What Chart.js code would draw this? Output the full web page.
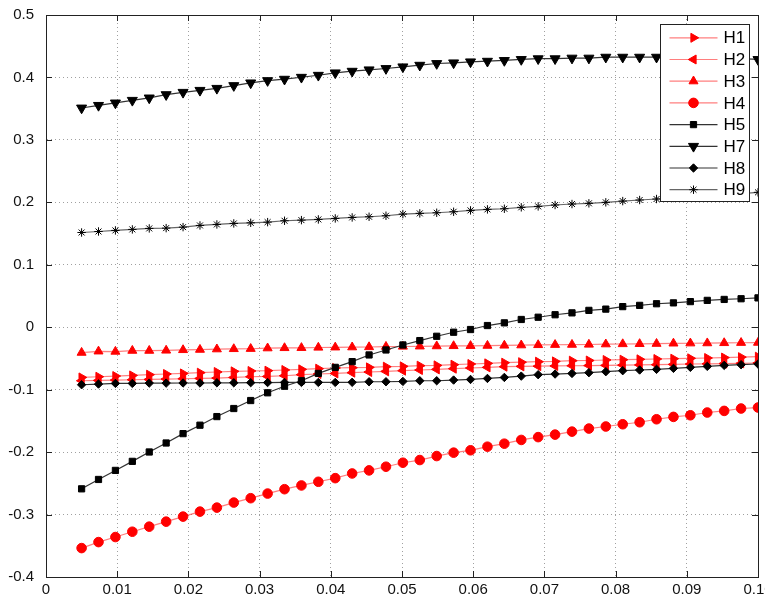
<!DOCTYPE html>
<html>
<head>
<meta charset="utf-8">
<script src="https://cdn.jsdelivr.net/npm/chart.js@4.4.1/dist/chart.umd.min.js"></script>
<style>
html, body { margin: 0; padding: 0; background: #fff; }
#wrap { width: 765px; height: 599px; }
</style>
</head>
<body>
<div id="wrap"><canvas id="c" width="765" height="599"></canvas></div>
<script>
// x positions of the samples
const xs = [0.005, 0.007375, 0.00975, 0.012125, 0.0145, 0.016875, 0.01925, 0.021625, 0.024, 0.026375,
    0.02875, 0.031125, 0.0335, 0.035875, 0.03825, 0.040625, 0.043, 0.045375, 0.04775, 0.050125,
    0.0525, 0.054875, 0.05725, 0.059625, 0.062, 0.064375, 0.06675, 0.069125, 0.0715, 0.073875,
    0.07625, 0.078625, 0.081, 0.083375, 0.08575, 0.088125, 0.0905, 0.092875, 0.09525, 0.097625, 0.1];

const h1 = [-0.0804, -0.0793, -0.0782, -0.0772, -0.076, -0.0749, -0.074, -0.0728, -0.0717, -0.0707, -0.0701, -0.0696, -0.0685,
    -0.0675, -0.0664, -0.0653, -0.0648, -0.0643, -0.0632, -0.0627, -0.0616, -0.0611, -0.06, -0.0589, -0.0579, -0.0568,
    -0.056, -0.0552, -0.0547, -0.0536, -0.0533, -0.0525, -0.052, -0.0514, -0.0509, -0.0504, -0.0498, -0.0493, -0.0486, -0.0479, -0.0472];
const h2 = [-0.0857, -0.0852, -0.0846, -0.0841, -0.0836, -0.083, -0.0825, -0.082, -0.0814, -0.0804, -0.0793, -0.0788, -0.0777,
    -0.076, -0.0749, -0.074, -0.0728, -0.0717, -0.0707, -0.0696, -0.0685, -0.0675, -0.0664, -0.0653, -0.0643, -0.0632,
    -0.0627, -0.0624, -0.062, -0.0617, -0.0614, -0.0611, -0.0607, -0.0604, -0.06, -0.0595, -0.0589, -0.0586, -0.0582, -0.0578, -0.0573];
const h3 = [-0.0407, -0.0386, -0.039, -0.0375, -0.0375, -0.0372, -0.0364, -0.0359, -0.0352, -0.0348, -0.0345, -0.0336, -0.0332,
    -0.033, -0.0325, -0.0322, -0.032, -0.0317, -0.0311, -0.0309, -0.0306, -0.0303, -0.03, -0.0298, -0.0295, -0.0292,
    -0.0288, -0.0284, -0.0281, -0.0279, -0.0277, -0.0272, -0.0269, -0.0267, -0.0264, -0.0259, -0.0257, -0.0255, -0.0252, -0.0249, -0.0247];
const h4 = [-0.3537, -0.3441, -0.336, -0.3275, -0.3194, -0.3114, -0.3033, -0.2953, -0.2889, -0.2808, -0.2738, -0.2664, -0.2594,
    -0.2534, -0.2475, -0.2417, -0.2342, -0.2293, -0.2234, -0.217, -0.2127, -0.2063, -0.2009, -0.1971, -0.1913, -0.1865,
    -0.1805, -0.176, -0.172, -0.1672, -0.1623, -0.159, -0.1554, -0.1522, -0.1474, -0.1436, -0.141, -0.1366, -0.134, -0.1302, -0.1286];
const h5 = [-0.2588, -0.2438, -0.2293, -0.2148, -0.1998, -0.1854, -0.1704, -0.1569, -0.1431, -0.1302, -0.1174, -0.105, -0.0945,
    -0.0857, -0.074, -0.0643, -0.0551, -0.0444, -0.0364, -0.0284, -0.0214, -0.0145, -0.008, -0.0037, 0.0027, 0.007,
    0.0124, 0.016, 0.02, 0.023, 0.027, 0.029, 0.033, 0.035, 0.0376, 0.039, 0.041, 0.043, 0.0445, 0.0456, 0.047];
const h7 = [0.3511, 0.3553, 0.3592, 0.3634, 0.3672, 0.3725, 0.3762, 0.3794, 0.3826, 0.387, 0.3913, 0.395, 0.3972,
    0.4003, 0.4035, 0.4074, 0.41, 0.4122, 0.4143, 0.417, 0.4196, 0.4223, 0.4234, 0.425, 0.426, 0.4272,
    0.4288, 0.43, 0.43, 0.431, 0.431, 0.4325, 0.4325, 0.4325, 0.4325, 0.433, 0.433, 0.432, 0.431, 0.430, 0.4288];
const h8 = [-0.0921, -0.091, -0.09, -0.09, -0.0895, -0.0895, -0.0893, -0.0893, -0.089, -0.089, -0.0888, -0.0886, -0.0884,
    -0.0884, -0.0884, -0.0884, -0.0882, -0.0873, -0.0873, -0.0868, -0.0857, -0.0857, -0.0846, -0.0836, -0.082, -0.0804,
    -0.0783, -0.076, -0.075, -0.074, -0.0728, -0.0712, -0.0696, -0.0685, -0.0675, -0.0659, -0.0643, -0.0627, -0.0611, -0.06, -0.0589];
const h9 = [0.1517, 0.1533, 0.155, 0.1566, 0.1582, 0.1587, 0.1603, 0.163, 0.1646, 0.1662, 0.1672, 0.1683, 0.1705,
    0.1715, 0.1726, 0.1742, 0.1758, 0.1769, 0.1785, 0.1812, 0.1823, 0.1833, 0.1849, 0.1871, 0.1887, 0.1897,
    0.192, 0.1935, 0.1957, 0.1973, 0.1984, 0.2, 0.202, 0.2037, 0.2053, 0.207, 0.209, 0.211, 0.2125, 0.214, 0.216];

const names = ['H1', 'H2', 'H3', 'H4', 'H5', 'H7', 'H8', 'H9'];
const values = [h1, h2, h3, h4, h5, h7, h8, h9];

const FONT = 'Liberation Sans, Arial, sans-serif';
const redLine = 'rgba(255, 40, 40, 0.6)';

// marker look per series
const looks = [
    { style: 'triangle', rot: 90, r: 5.2, fill: '#ff0000', line: redLine },
    { style: 'triangle', rot: -90, r: 5.2, fill: '#ff0000', line: redLine },
    { style: 'triangle', rot: 0, r: 5.2, fill: '#ff0000', line: redLine },
    { style: 'circle', rot: 0, r: 4.8, fill: '#ff0000', line: redLine },
    { style: 'rect', rot: 0, r: 4.4, fill: '#000000', line: '#333333' },
    { style: 'triangle', rot: 180, r: 5.8, fill: '#000000', line: '#333333' },
    { style: 'rectRot', rot: 0, r: 4.2, fill: '#000000', line: '#333333' },
    { style: 'star', rot: 0, r: 4.2, fill: '#000000', line: '#666666' }
];

const datasets = names.map((name, k) => ({
    label: name,
    data: xs.map((x, i) => ({ x: x, y: values[k][i] })),
    borderColor: looks[k].line,
    borderWidth: 1.2,
    pointStyle: looks[k].style,
    rotation: looks[k].rot,
    pointRadius: looks[k].r,
    pointBackgroundColor: looks[k].fill,
    pointBorderColor: looks[k].fill,
    pointBorderWidth: 1,
    tension: 0,
    fill: false,
    order: names.length - k
}));

// solid box round the plot, plus inward tick marks
const framePlugin = {
    id: 'frame',
    afterDraw(chart) {
        const ctx = chart.ctx, a = chart.chartArea;
        const sx = chart.scales.x, sy = chart.scales.y;
        ctx.save();
        ctx.strokeStyle = '#222';
        ctx.lineWidth = 1;
        ctx.strokeRect(Math.round(a.left) + 0.5, Math.round(a.top) + 0.5,
            Math.round(a.right - a.left), Math.round(a.bottom - a.top));
        ctx.beginPath();
        sx.ticks.forEach(t => {
            const px = Math.round(sx.getPixelForValue(t.value)) + 0.5;
            ctx.moveTo(px, a.bottom); ctx.lineTo(px, a.bottom - 6);
            ctx.moveTo(px, a.top); ctx.lineTo(px, a.top + 6);
        });
        sy.ticks.forEach(t => {
            const py = Math.round(sy.getPixelForValue(t.value)) + 0.5;
            ctx.moveTo(a.left, py); ctx.lineTo(a.left + 6, py);
            ctx.moveTo(a.right, py); ctx.lineTo(a.right - 6, py);
        });
        ctx.stroke();
        ctx.restore();
    }
};

// legend box inside the top right corner
const legendPlugin = {
    id: 'boxLegend',
    afterDraw(chart) {
        const ctx = chart.ctx, a = chart.chartArea;
        const w = 89, h = 177;
        const x0 = Math.round(a.right - 9.5 - w) + 0.5, y0 = Math.round(a.top + 9) + 0.5;
        ctx.save();
        ctx.fillStyle = '#fff';
        ctx.fillRect(x0, y0, w, h);
        ctx.strokeStyle = '#222';
        ctx.lineWidth = 1;
        ctx.strokeRect(x0, y0, w, h);
        chart.data.datasets.forEach((ds, k) => {
            const cy = y0 + 13.3 + k * 21.7;
            ctx.strokeStyle = ds.borderColor;
            ctx.lineWidth = 1.2;
            ctx.beginPath();
            ctx.moveTo(x0 + 9, cy); ctx.lineTo(x0 + 57, cy);
            ctx.stroke();
            ctx.fillStyle = ds.pointBackgroundColor;
            ctx.strokeStyle = ds.pointBorderColor;
            ctx.lineWidth = 1;
            Chart.helpers.drawPoint(ctx, {
                pointStyle: ds.pointStyle, rotation: ds.rotation,
                radius: ds.pointRadius, borderWidth: 1
            }, x0 + 33, cy);
            ctx.fillStyle = '#000';
            ctx.font = '17px ' + FONT;
            ctx.textBaseline = 'middle';
            ctx.fillText(ds.label, x0 + 63, cy + 1);
        });
        ctx.restore();
    }
};

new Chart(document.getElementById('c'), {
    type: 'line',
    data: { datasets: datasets },
    options: {
        responsive: false,
        animation: false,
        layout: { padding: { top: 15, right: 7, left: 0, bottom: 0 } },
        plugins: { legend: { display: false }, tooltip: { enabled: false } },
        scales: {
            x: {
                type: 'linear', min: 0, max: 0.1,
                afterFit: s => { s.height = 22; s.paddingLeft = 0; s.paddingRight = 0; },
                ticks: { stepSize: 0.01, color: '#111', padding: 4, font: { family: FONT, size: 15 } },
                grid: { color: '#a0a0a0', drawTicks: false },
                border: { display: true, color: '#222', dash: [1, 3] }
            },
            y: {
                min: -0.4, max: 0.5,
                afterFit: s => { s.width = 46; s.paddingTop = 0; s.paddingBottom = 0; },
                ticks: { stepSize: 0.1, color: '#111', padding: 12, font: { family: FONT, size: 15 } },
                grid: { color: '#a0a0a0', drawTicks: false },
                border: { display: true, color: '#222', dash: [1, 3] }
            }
        }
    },
    plugins: [framePlugin, legendPlugin]
});
</script>
</body>
</html>
